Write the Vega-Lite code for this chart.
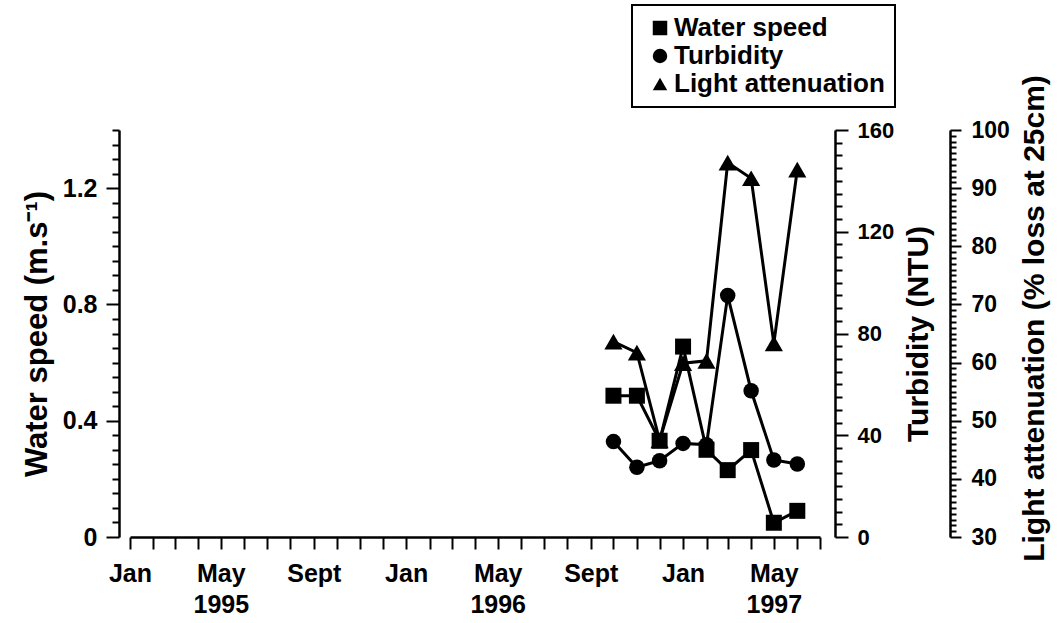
{
  "$schema": "https://vega.github.io/schema/vega-lite/v6.json",
  "width": 690,
  "height": 407,
  "autosize": {"type": "none"},
  "padding": {"left": 130, "top": 130, "right": 238, "bottom": 86},
  "background": "white",
  "config": {
    "view": {"stroke": null},
    "font": "Liberation Sans",
    "legend": {"strokeWidth": 2},
    "axis": {
      "grid": false,
      "domainColor": "black",
      "domainWidth": 2.5,
      "tickColor": "black",
      "tickWidth": 2,
      "labelColor": "black",
      "labelFont": "Liberation Sans",
      "labelFontWeight": "bold",
      "labelFontSize": 25,
      "titleColor": "black",
      "titleFont": "Liberation Sans",
      "titleFontWeight": "bold",
      "titleFontSize": 30,
      "labelOverlap": false,
      "labelBound": false,
      "labelFlush": false
    }
  },
  "data": {
    "values": [
      {"date": "1996-10-01", "series": "Water speed", "value": 0.486},
      {"date": "1996-11-01", "series": "Water speed", "value": 0.486},
      {"date": "1996-12-01", "series": "Water speed", "value": 0.331},
      {"date": "1997-01-01", "series": "Water speed", "value": 0.655},
      {"date": "1997-02-01", "series": "Water speed", "value": 0.30},
      {"date": "1997-03-01", "series": "Water speed", "value": 0.23},
      {"date": "1997-04-01", "series": "Water speed", "value": 0.299},
      {"date": "1997-05-01", "series": "Water speed", "value": 0.049},
      {"date": "1997-06-01", "series": "Water speed", "value": 0.09},
      {"date": "1996-10-01", "series": "Turbidity", "value": 37.5},
      {"date": "1996-11-01", "series": "Turbidity", "value": 27.4},
      {"date": "1996-12-01", "series": "Turbidity", "value": 30.0},
      {"date": "1997-01-01", "series": "Turbidity", "value": 36.8},
      {"date": "1997-02-01", "series": "Turbidity", "value": 36.3},
      {"date": "1997-03-01", "series": "Turbidity", "value": 94.9},
      {"date": "1997-04-01", "series": "Turbidity", "value": 57.5},
      {"date": "1997-05-01", "series": "Turbidity", "value": 30.3},
      {"date": "1997-06-01", "series": "Turbidity", "value": 28.7},
      {"date": "1996-10-01", "series": "Light attenuation", "value": 63.6},
      {"date": "1996-11-01", "series": "Light attenuation", "value": 61.7},
      {"date": "1996-12-01", "series": "Light attenuation", "value": 46.6},
      {"date": "1997-01-01", "series": "Light attenuation", "value": 59.9},
      {"date": "1997-02-01", "series": "Light attenuation", "value": 60.3},
      {"date": "1997-03-01", "series": "Light attenuation", "value": 94.4},
      {"date": "1997-04-01", "series": "Light attenuation", "value": 91.7},
      {"date": "1997-05-01", "series": "Light attenuation", "value": 63.3},
      {"date": "1997-06-01", "series": "Light attenuation", "value": 93.2}
    ]
  },
  "encoding": {
    "x": {
      "field": "date",
      "type": "temporal",
      "scale": {
        "type": "utc",
        "domain": [
          {"year": 1995, "month": 1, "date": 1, "utc": true},
          {"year": 1997, "month": 7, "date": 1, "utc": true}
        ]
      },
      "axis": {
        "title": null,
        "tickCount": {"interval": "month", "step": 1},
        "tickSize": 12,
        "labelPadding": 12,
        "labelAlign": "center",
        "labelBaseline": "top",
        "labelLineHeight": 31,
        "labelExpr": "utcmonth(datum.value) == 0 ? 'Jan' : utcmonth(datum.value) == 4 ? ['May', utcFormat(datum.value, '%Y')] : utcmonth(datum.value) == 8 ? 'Sept' : ''"
      }
    }
  },
  "layer": [
    {
      "transform": [{"filter": "datum.series == 'Light attenuation'"}],
      "encoding": {
        "y": {
          "field": "value",
          "type": "quantitative",
          "scale": {"domain": [30, 100], "nice": false, "zero": false},
          "axis": {
            "orient": "right",
            "offset": 130,
            "title": "Light attenuation (% loss at 25cm)",
            "tickCount": 70,
            "tickSize": {"condition": {"test": "datum.value % 10 == 0", "value": 11}, "value": 6},
            "labelExpr": "datum.value % 10 == 0 ? datum.label : ''",
            "labelFontSize": 23,
            "labelPadding": 10,
            "titleAngle": 270,
            "titleBaseline": "top",
            "titlePadding": 10,
            "titleY": 188
          }
        }
      },
      "layer": [
        {"mark": {"type": "line", "color": "black", "strokeWidth": 3}},
        {
          "mark": {"type": "point", "filled": true, "color": "black", "opacity": 1, "size": 330},
          "encoding": {
            "shape": {
              "field": "series",
              "type": "nominal",
              "scale": {"domain": ["Water speed", "Turbidity", "Light attenuation"], "range": ["square", "circle", "triangle-up"]},
              "legend": {"title": null, "orient": "none", "legendX": 502, "legendY": -125, "strokeColor": "black", "fillColor": "white", "padding": 10, "labelFont": "Liberation Sans", "labelFontWeight": "bold", "labelFontSize": 26, "labelColor": "black", "labelLimit": 0, "symbolSize": 210, "symbolFillColor": "black", "symbolStrokeColor": "black", "symbolStrokeWidth": 0, "symbolOffset": 5, "rowPadding": 2, "labelOffset": 1}
            }
          }
        }
      ]
    },
    {
      "transform": [{"filter": "datum.series == 'Turbidity'"}],
      "encoding": {
        "y": {
          "field": "value",
          "type": "quantitative",
          "scale": {"domain": [0, 160], "nice": false},
          "axis": {
            "orient": "right",
            "offset": 15,
            "title": "Turbidity (NTU)",
            "tickCount": 32,
            "tickSize": {"condition": {"test": "datum.value % 40 == 0", "value": 13}, "value": 7},
            "labelExpr": "datum.value % 40 == 0 ? datum.label : ''",
            "labelFontSize": 22,
            "labelPadding": 9,
            "titleAngle": 270,
            "titleBaseline": "top",
            "titlePadding": 10
          }
        }
      },
      "layer": [
        {"mark": {"type": "line", "color": "black", "strokeWidth": 3}},
        {
          "mark": {"type": "point", "filled": true, "color": "black", "opacity": 1, "size": 240},
          "encoding": {
            "shape": {
              "field": "series",
              "type": "nominal",
              "scale": {"domain": ["Water speed", "Turbidity", "Light attenuation"], "range": ["square", "circle", "triangle-up"]},
              "legend": {"title": null, "orient": "none", "legendX": 502, "legendY": -125, "strokeColor": "black", "fillColor": "white", "padding": 10, "labelFont": "Liberation Sans", "labelFontWeight": "bold", "labelFontSize": 26, "labelColor": "black", "labelLimit": 0, "symbolSize": 210, "symbolFillColor": "black", "symbolStrokeColor": "black", "symbolStrokeWidth": 0, "symbolOffset": 5, "rowPadding": 2, "labelOffset": 1}
            }
          }
        }
      ]
    },
    {
      "transform": [{"filter": "datum.series == 'Water speed'"}],
      "encoding": {
        "y": {
          "field": "value",
          "type": "quantitative",
          "scale": {"domain": [0, 1.4], "nice": false},
          "axis": {
            "orient": "left",
            "offset": 11,
            "title": "Water speed (m.s⁻¹)",
            "titleFontSize": 31,
            "tickCount": 28,
            "tickSize": {"condition": {"test": "round(datum.value * 100) % 40 == 0", "value": 13}, "value": 7},
            "labelExpr": "round(datum.value * 100) % 40 == 0 ? format(datum.value, '.1~f') : ''",
            "labelPadding": 9,
            "titlePadding": 9
          }
        }
      },
      "layer": [
        {"mark": {"type": "line", "color": "black", "strokeWidth": 3}},
        {
          "mark": {"type": "point", "filled": true, "color": "black", "opacity": 1, "size": 256},
          "encoding": {
            "shape": {
              "field": "series",
              "type": "nominal",
              "scale": {"domain": ["Water speed", "Turbidity", "Light attenuation"], "range": ["square", "circle", "triangle-up"]},
              "legend": {"title": null, "orient": "none", "legendX": 502, "legendY": -125, "strokeColor": "black", "fillColor": "white", "padding": 10, "labelFont": "Liberation Sans", "labelFontWeight": "bold", "labelFontSize": 26, "labelColor": "black", "labelLimit": 0, "symbolSize": 210, "symbolFillColor": "black", "symbolStrokeColor": "black", "symbolStrokeWidth": 0, "symbolOffset": 5, "rowPadding": 2, "labelOffset": 1}
            }
          }
        }
      ]
    }
  ],
  "resolve": {"scale": {"y": "independent"}}
}
